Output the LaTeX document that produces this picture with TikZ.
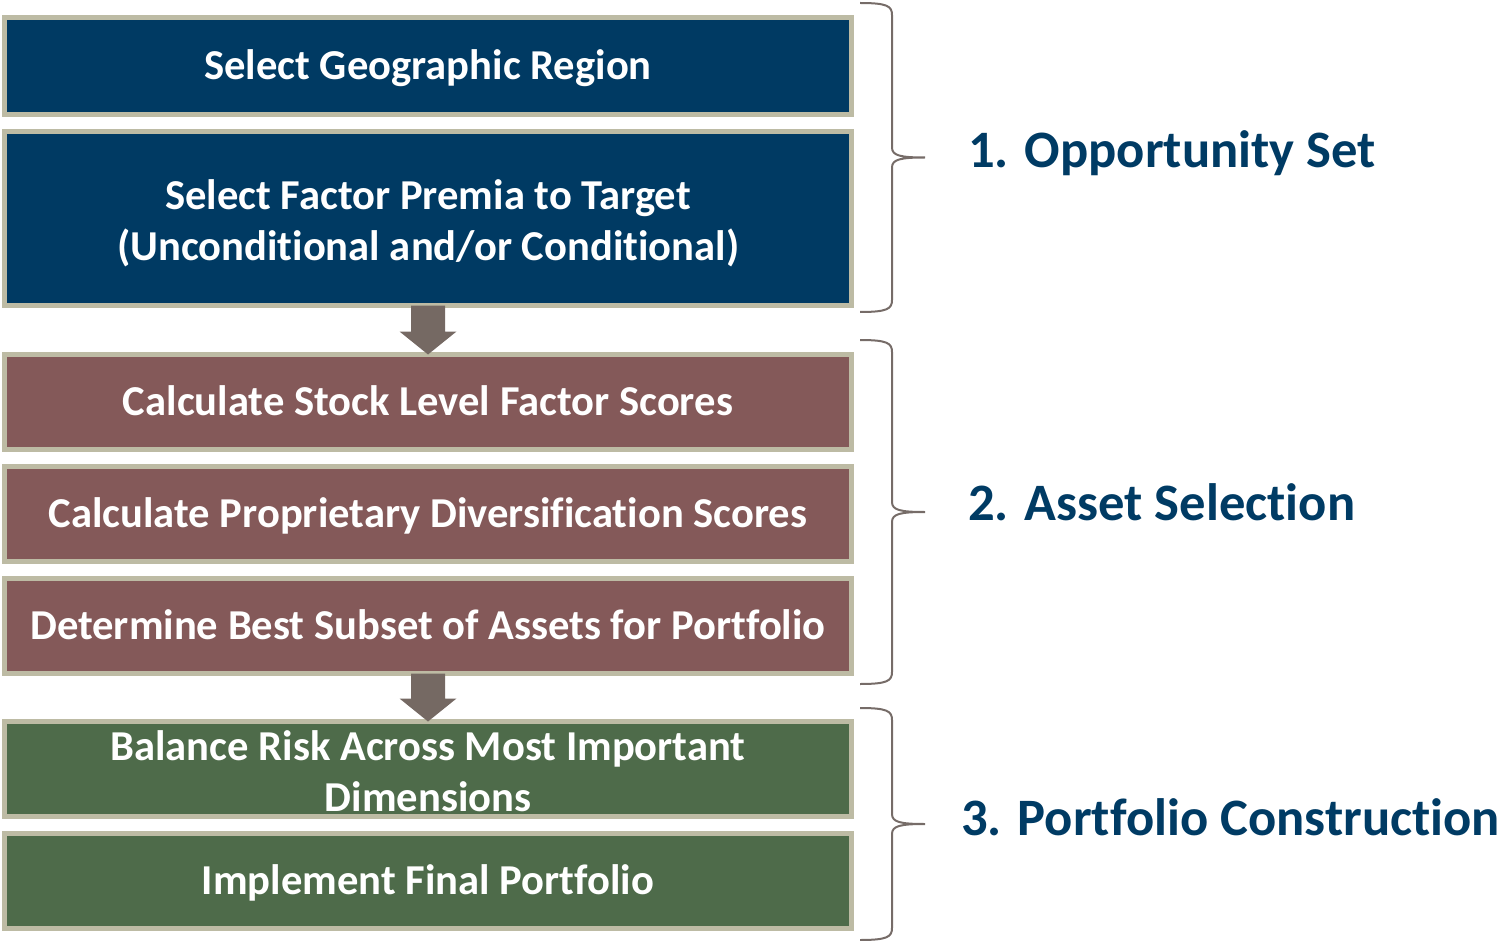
\documentclass[tikz,border=0pt]{standalone}
\usepackage{fontspec}
\setmainfont{Carlito}[Ligatures=NoCommon]
\usepackage{tikz}
\usetikzlibrary{positioning,calc}

\definecolor{navybox}{RGB}{0,58,99}
\definecolor{rosebox}{RGB}{132,89,89}
\definecolor{greenbox}{RGB}{78,107,74}
\definecolor{boxline}{RGB}{189,187,164}
\definecolor{arrowgray}{RGB}{117,105,99}
\definecolor{bracegray}{RGB}{118,108,104}
\definecolor{stagetext}{RGB}{0,59,100}

\begin{document}
\begin{tikzpicture}[
      x=1pt,y=-1pt,
      node distance=17pt,
      box/.style={draw=boxline,line width=5pt,text=white,align=center,
                  minimum width=847pt,minimum height=95pt,inner sep=0pt,outer sep=0pt,
                  text height=35.8pt,text depth=8.5pt,
                  font=\bfseries\fontsize{42.6}{51}\selectfont},
      twoline/.style={text height=86.8pt,text depth=2.5pt},
      blue/.style={box,fill=navybox},
      rose/.style={box,fill=rosebox},
      green/.style={box,fill=greenbox},
      flow/.style={fill=arrowgray},
      brace/.style={draw=bracegray,line width=2pt},
      stage/.style={text=stagetext,inner sep=0pt,anchor=base west,
                    font=\bfseries\fontsize{52.6}{60}\selectfont},
    ]
      \useasboundingbox (0,0) rectangle (1501,941);
      \node[blue,minimum height=97pt] (region) at (428,66) {Select Geographic Region};
      \node[blue,twoline,minimum height=174pt,below=of region] (premia)
            {Select Factor Premia to Target\\(Unconditional and/or Conditional)};
      \node[rose,below=49pt of premia] (scores) {Calculate Stock Level Factor Scores};
      \node[rose,below=of scores] (divers) {Calculate Proprietary Diversification Scores};
      \node[rose,below=of divers] (subset) {Determine Best Subset of Assets for Portfolio};
      \node[green,twoline,below=48pt of subset] (balance) {Balance Risk Across Most Important\\Dimensions};
      \node[green,below=of balance] (final) {Implement Final Portfolio};

      \foreach \a/\b in {premia/scores,subset/balance}
        \fill[flow] ($(\a.south)+(-17,0)$) -- ($(\b.north)+(-17,-23)$)
          -- ($(\b.north)+(-28.5,-23)$) -- (\b.north) -- ($(\b.north)+(28.5,-23)$)
          -- ($(\b.north)+(17,-23)$) -- ($(\a.south)+(17,0)$) -- cycle;

      \foreach \t/\m/\b in {3/157.5/312,340/512/684,708/824/940}
        \draw[brace] (860,\t) .. controls (887,\t) and (892,\t+3) .. (892,\t+12)
          -- (892,\m-10) .. controls (892,\m-2) and (900,\m) .. (925,\m)
          .. controls (900,\m) and (892,\m+2) .. (892,\m+10)
          -- (892,\b-12) .. controls (892,\b-3) and (887,\b) .. (860,\b);

      \node[stage] (opportunity) at (968,168) {1. Opportunity Set};
      \node[stage] (selection) at (968,520.5) {2. Asset Selection};
      \node[stage] (construction) at (961,835.5) {3. Portfolio Construction};
    \end{tikzpicture}
\end{document}
